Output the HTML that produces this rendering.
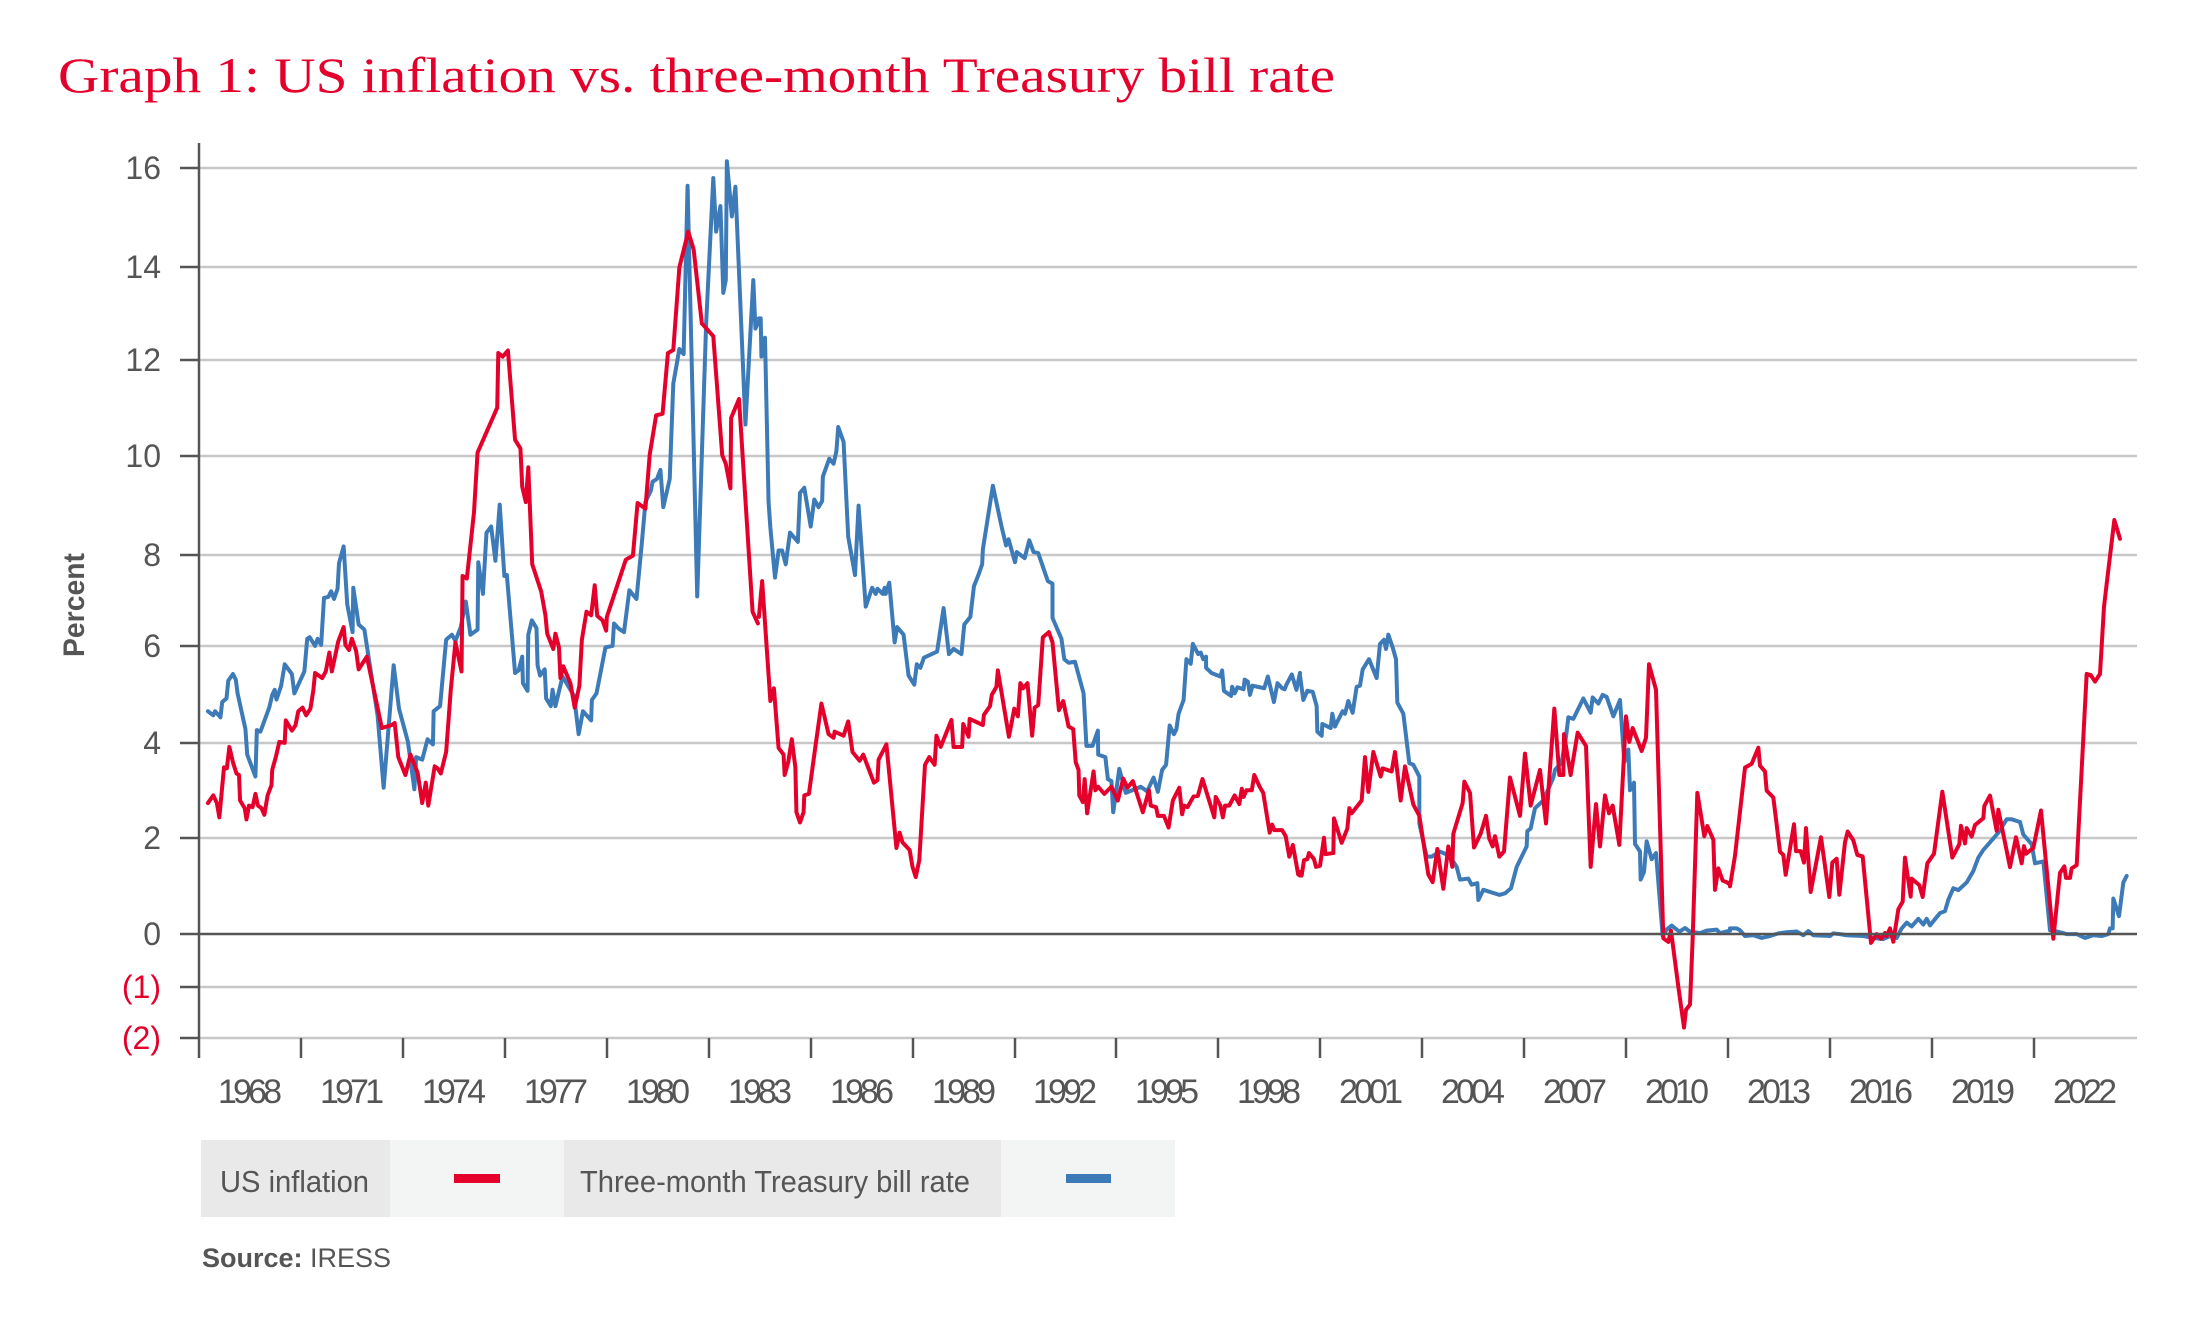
<!DOCTYPE html>
<html><head><meta charset="utf-8"><style>
html,body{margin:0;padding:0;background:#fff;}
svg{display:block;}
</style></head><body>
<svg width="2206" height="1320" viewBox="0 0 2206 1320" xmlns="http://www.w3.org/2000/svg">
<rect width="2206" height="1320" fill="#fff"/>
<text x="58" y="92" font-family="Liberation Serif, serif" font-size="50" fill="#e4002b" textLength="1277" lengthAdjust="spacingAndGlyphs">Graph 1: US inflation vs. three-month Treasury bill rate</text>

<g stroke="#c8c8c8" stroke-width="2.5">
<line x1="199" y1="168" x2="2137" y2="168"/>
<line x1="199" y1="267" x2="2137" y2="267"/>
<line x1="199" y1="360" x2="2137" y2="360"/>
<line x1="199" y1="456" x2="2137" y2="456"/>
<line x1="199" y1="555" x2="2137" y2="555"/>
<line x1="199" y1="646" x2="2137" y2="646"/>
<line x1="199" y1="743" x2="2137" y2="743"/>
<line x1="199" y1="838" x2="2137" y2="838"/>
<line x1="199" y1="987" x2="2137" y2="987"/>
<line x1="199" y1="1038" x2="2137" y2="1038"/>
</g>
<g stroke="#555" stroke-width="2.5">
<line x1="180" y1="168" x2="199" y2="168"/>
<line x1="180" y1="267" x2="199" y2="267"/>
<line x1="180" y1="360" x2="199" y2="360"/>
<line x1="180" y1="456" x2="199" y2="456"/>
<line x1="180" y1="555" x2="199" y2="555"/>
<line x1="180" y1="646" x2="199" y2="646"/>
<line x1="180" y1="743" x2="199" y2="743"/>
<line x1="180" y1="838" x2="199" y2="838"/>
<line x1="180" y1="934" x2="199" y2="934"/>
<line x1="180" y1="987" x2="199" y2="987"/>
<line x1="180" y1="1038" x2="199" y2="1038"/>
<line x1="199" y1="143" x2="199" y2="1058"/>
<line x1="301" y1="1038" x2="301" y2="1058"/><line x1="403" y1="1038" x2="403" y2="1058"/><line x1="505" y1="1038" x2="505" y2="1058"/><line x1="607" y1="1038" x2="607" y2="1058"/><line x1="709" y1="1038" x2="709" y2="1058"/><line x1="811" y1="1038" x2="811" y2="1058"/><line x1="913" y1="1038" x2="913" y2="1058"/><line x1="1015" y1="1038" x2="1015" y2="1058"/><line x1="1116" y1="1038" x2="1116" y2="1058"/><line x1="1218" y1="1038" x2="1218" y2="1058"/><line x1="1320" y1="1038" x2="1320" y2="1058"/><line x1="1422" y1="1038" x2="1422" y2="1058"/><line x1="1524" y1="1038" x2="1524" y2="1058"/><line x1="1626" y1="1038" x2="1626" y2="1058"/><line x1="1728" y1="1038" x2="1728" y2="1058"/><line x1="1830" y1="1038" x2="1830" y2="1058"/><line x1="1932" y1="1038" x2="1932" y2="1058"/><line x1="2034" y1="1038" x2="2034" y2="1058"/>
</g>

<g font-family="Liberation Sans, sans-serif" font-size="32" fill="#555" text-anchor="end">
<text x="161" y="179">16</text><text x="161" y="278">14</text><text x="161" y="371">12</text><text x="161" y="467">10</text><text x="161" y="566">8</text><text x="161" y="657">6</text><text x="161" y="754">4</text><text x="161" y="849">2</text><text x="161" y="945">0</text>
<text x="161" y="998" fill="#e4002b">(1)</text><text x="161" y="1049" fill="#e4002b">(2)</text>
</g>
<text transform="translate(84,605) rotate(-90)" font-family="Liberation Sans, sans-serif" font-weight="bold" font-size="30" fill="#555" text-anchor="middle" textLength="104" lengthAdjust="spacingAndGlyphs">Percent</text>

<g font-family="Liberation Sans, sans-serif" font-size="34" fill="#555" text-anchor="middle" lengthAdjust="spacingAndGlyphs">
<text x="250" y="1103" textLength="64">1968</text><text x="352" y="1103" textLength="64">1971</text><text x="454" y="1103" textLength="64">1974</text><text x="556" y="1103" textLength="64">1977</text><text x="658" y="1103" textLength="64">1980</text><text x="760" y="1103" textLength="64">1983</text><text x="862" y="1103" textLength="64">1986</text><text x="964" y="1103" textLength="64">1989</text><text x="1065" y="1103" textLength="64">1992</text><text x="1167" y="1103" textLength="64">1995</text><text x="1269" y="1103" textLength="64">1998</text><text x="1371" y="1103" textLength="64">2001</text><text x="1473" y="1103" textLength="64">2004</text><text x="1575" y="1103" textLength="64">2007</text><text x="1677" y="1103" textLength="64">2010</text><text x="1779" y="1103" textLength="64">2013</text><text x="1881" y="1103" textLength="64">2016</text><text x="1983" y="1103" textLength="64">2019</text><text x="2085" y="1103" textLength="64">2022</text>
</g>

<g fill="none" stroke-width="4" stroke-linejoin="round" stroke-linecap="round">
<g stroke="#3d7ab8">
<g transform="translate(199,150) scale(0.357143,0.510204)"><polyline vector-effect="non-scaling-stroke" points="25,1100 40,1108 45,1100 60,1112 65,1082 77,1075 82,1040 95,1027 103,1038 108,1065 130,1135 135,1185 158,1228 162,1137 172,1140 197,1092 205,1068 212,1058 217,1077 230,1050 240,1008 260,1027 267,1065 295,1022 303,958 310,955 325,972 332,958 342,970 350,878 362,876 370,865 378,880 388,860 392,810 405,777 415,890 430,945 432,858 447,930 463,940 500,1108 517,1250 545,1010 560,1095 585,1160 603,1253 608,1190 625,1195 640,1155 655,1165 657,1100 675,1090 692,960 708,950 718,962 733,935 747,885 760,950 780,940 782,808 795,870 805,750 818,738 830,805 842,695 855,835 862,833 885,1025 895,1020 905,993 907,1045 920,1060 922,950 932,922 945,937 948,1010 955,1030 968,1018 972,1075 985,1090 990,1058 998,1090 1018,1032 1050,1070 1063,1145 1075,1100 1098,1118 1100,1078 1113,1065 1138,975 1158,972 1162,928 1175,938 1190,945 1205,863 1225,880 1240,770 1250,690 1265,668 1270,650 1282,645 1292,627 1300,700 1318,645 1328,458 1345,390 1357,400 1368,70 1395,875 1420,340 1440,55 1448,160 1460,110 1468,280 1475,255 1478,22 1492,130 1502,72 1530,538 1552,255 1558,350 1568,335"/></g>
<g transform="translate(740,150) scale(0.357143,0.510204)"><polyline vector-effect="non-scaling-stroke" points="53,330 58,330 60,405 70,368 80,690 85,740 98,838 108,785 118,785 128,812 140,750 162,768 168,672 180,662 198,738 208,685 220,700 230,688 232,640 250,605 262,615 270,590 275,543 290,572 303,758 322,833 332,697 352,895 370,858 380,870 385,860 400,870 405,858 408,870 418,848 433,965 440,935 458,950 472,1030 488,1048 495,1008 505,1015 515,995 552,983 570,898 585,988 598,978 620,988 628,930 645,915 655,855 668,832 678,812 680,783 708,658 733,740 745,775 752,763 770,808 775,788 797,800 810,765 822,788 835,790 862,845 875,850 875,917 900,958 908,998 920,1005 938,1003 962,1065 970,1168 987,1168 1002,1138 1003,1185 1023,1190 1030,1233 1040,1237 1045,1298 1062,1213 1080,1260 1122,1248 1140,1257 1158,1230 1170,1258 1182,1215 1193,1205 1203,1128 1215,1145 1222,1135 1228,1105 1242,1078 1250,998 1262,1007 1268,968 1283,988 1290,985 1297,998 1305,993 1305,1015 1320,1025 1345,1032 1350,1020 1355,1060 1375,1070 1378,1052 1385,1065 1393,1053 1410,1057 1413,1038 1422,1042 1428,1068 1435,1050 1468,1055 1478,1032 1495,1082 1505,1045 1518,1055 1525,1057 1530,1048 1545,1028 1558,1058 1568,1025"/></g>
<g transform="translate(1290,150) scale(0.333333,0.510204)"><polyline vector-effect="non-scaling-stroke" points="30,1030 40,1078 52,1060 68,1062 80,1090 82,1140 95,1148 97,1125 122,1133 127,1105 135,1130 150,1110 158,1100 165,1105 175,1080 188,1103 200,1052 210,1050 218,1018 237,998 260,1035 270,968 282,960 288,978 295,950 308,975 318,998 322,1083 340,1105 358,1202 370,1205 388,1228 388,1320 410,1385 425,1385 450,1375 478,1383 500,1405 510,1430 535,1428 545,1440 562,1437 565,1470 580,1450 628,1460 645,1457 663,1447 680,1405 710,1365 712,1335 722,1330 735,1290 760,1275 790,1230 795,1215 815,1200 828,1150 835,1112 850,1115 880,1075 902,1103 908,1073 925,1085 938,1068 950,1072 970,1110 990,1078 1003,1200 1015,1175 1020,1255 1032,1240 1035,1360 1050,1375 1052,1430 1062,1415 1070,1355 1085,1390 1098,1378 1118,1540 1130,1528 1145,1520 1168,1532 1185,1525 1200,1532 1230,1535 1250,1530 1280,1528 1290,1535 1320,1530"/></g>
<g transform="translate(1720,450) scale(0.333333,0.382702)"><polyline vector-effect="non-scaling-stroke" points="30,1250 35,1250 50,1250 60,1255 75,1270 100,1268 125,1275 150,1270 175,1263 200,1260 230,1258 250,1268 265,1257 280,1268 330,1270 340,1263 360,1265 380,1268 430,1270 460,1275 490,1278 510,1270 530,1275 545,1250 560,1235 575,1245 595,1225 610,1240 620,1225 630,1242 660,1210 675,1205 685,1175 700,1145 715,1150 740,1130 760,1100 775,1065 790,1045 810,1025 835,1000 860,965 875,965 900,972 910,1005 935,1030 945,1080 970,1075 990,1255 1010,1258 1040,1265 1070,1265 1095,1275 1120,1268 1145,1270 1165,1265 1170,1250 1178,1250 1180,1172 1197,1218 1210,1130 1220,1113"/></g>
</g>
<g stroke="#e4002b">
<g transform="translate(199,150) scale(0.357143,0.510204)"><polyline vector-effect="non-scaling-stroke" points="25,1280 40,1265 50,1280 57,1308 70,1210 78,1212 85,1170 95,1200 105,1222 112,1225 115,1275 128,1290 133,1312 140,1285 150,1288 158,1262 165,1285 175,1290 183,1303 192,1265 203,1245 205,1215 215,1190 225,1160 240,1162 243,1118 260,1138 270,1128 278,1100 290,1093 300,1108 312,1095 320,1060 325,1025 345,1035 355,1022 365,985 372,1022 390,963 405,935 410,970 420,980 428,958 440,982 447,1018 470,993 512,1133 540,1127 548,1123 558,1190 578,1225 592,1185 612,1220 625,1280 635,1240 642,1285 660,1208 668,1212 677,1222 692,1180 705,1058 718,965 735,1022 738,835 750,840 770,710 780,593 835,505 838,398 850,405 865,393 885,568 900,585 905,660 915,690 922,622 933,812 958,865 970,912 975,948 992,978 998,948 1008,975 1012,1035 1020,1012 1040,1045 1052,1093 1065,1050 1072,960 1085,905 1098,912 1108,853 1115,913 1130,922 1140,942 1142,915 1195,803 1215,795 1228,692 1250,703 1262,597 1280,520 1298,517 1313,398 1328,392 1345,230 1370,160 1385,195 1408,340 1440,365 1465,598 1475,615 1488,663 1490,525 1512,488 1550,905 1565,928"/></g>
<g transform="translate(740,150) scale(0.357143,0.510204)"><polyline vector-effect="non-scaling-stroke" points="53,915 62,845 85,1080 95,1055 108,1172 122,1185 125,1225 135,1200 145,1155 155,1210 158,1298 168,1318 178,1298 180,1265 193,1262 212,1165 228,1085 248,1145 262,1152 265,1140 290,1148 303,1120 315,1180 335,1197 345,1185 375,1240 385,1235 388,1195 410,1165 438,1368 447,1338 455,1357 475,1372 483,1405 492,1425 502,1392 518,1205 530,1190 545,1205 550,1148 562,1170 592,1117 598,1170 622,1170 625,1125 640,1150 643,1115 680,1127 683,1107 700,1090 705,1068 718,1052 722,1020 753,1150 768,1095 778,1110 785,1045 793,1055 805,1045 818,1148 825,1093 835,1088 848,955 865,945 875,965 893,1098 905,1080 920,1130 933,1135 940,1200 948,1215 950,1265 960,1278 965,1233 972,1300 990,1218 995,1255 1003,1248 1020,1262 1040,1248 1058,1275 1073,1232 1085,1250 1100,1237 1128,1298 1145,1255 1150,1285 1165,1288 1170,1305 1187,1305 1200,1328 1212,1275 1230,1250 1238,1302 1243,1285 1253,1288 1270,1267 1282,1266 1295,1233 1328,1308 1332,1268 1345,1285 1352,1308 1358,1285 1370,1285 1385,1265 1398,1282 1405,1252 1410,1268 1418,1255 1433,1255 1440,1225 1455,1248 1465,1260 1483,1338 1490,1322 1496,1333 1518,1333 1528,1345 1538,1385 1548,1362 1563,1420 1568,1422"/></g>
<g transform="translate(1290,150) scale(0.333333,0.510204)"><polyline vector-effect="non-scaling-stroke" points="30,1415 35,1422 42,1392 52,1390 57,1378 72,1390 78,1405 90,1403 102,1348 106,1380 130,1378 132,1310 155,1358 172,1330 178,1290 185,1300 215,1275 225,1190 235,1258 250,1180 272,1228 278,1212 305,1218 315,1180 332,1275 345,1208 370,1283 388,1305 415,1420 428,1435 442,1370 460,1448 475,1365 487,1405 490,1340 518,1280 523,1238 540,1260 552,1367 572,1340 588,1305 598,1350 608,1365 615,1345 628,1385 642,1375 660,1230 690,1305 705,1183 722,1285 750,1215 768,1320 793,1095 808,1225 820,1225 822,1145 842,1225 863,1142 888,1168 902,1405 918,1282 930,1365 945,1265 957,1300 968,1285 988,1362 1008,1110 1018,1160 1028,1133 1055,1178 1068,1152 1077,1008 1098,1058 1120,1545 1135,1552 1143,1530 1149,1560 1165,1640 1182,1720 1188,1685 1200,1675 1208,1545 1222,1260 1243,1345 1252,1325 1270,1352 1275,1450 1285,1408 1298,1432 1310,1435 1320,1440"/></g>
<g transform="translate(1720,450) scale(0.333333,0.382702)"><polyline vector-effect="non-scaling-stroke" points="30,1140 45,1060 75,830 95,820 115,778 120,825 135,840 140,890 160,908 180,1050 190,1058 197,1110 222,978 228,1048 242,1048 252,1078 258,988 272,1155 303,1012 328,1168 337,1078 350,1068 358,1162 375,1025 383,997 400,1020 412,1058 428,1062 453,1288 470,1265 483,1277 495,1262 500,1270 510,1250 520,1285 535,1200 548,1180 555,1065 572,1167 575,1120 598,1137 608,1168 622,1080 642,1055 667,893 697,1065 718,1030 723,982 735,1028 740,988 755,1010 765,980 790,962 793,930 810,903 830,995 835,940 870,1090 888,1012 905,1080 912,1035 918,1055 940,1040 963,942 1000,1277 1020,1105 1033,1088 1038,1118 1050,1118 1055,1093 1070,1085 1100,585 1112,588 1125,605 1140,585 1152,410 1160,350 1183,183 1200,232"/></g>
</g>
</g>
<line x1="199" y1="934" x2="2137" y2="934" stroke="#555" stroke-width="2.5"/>

<rect x="201" y="1140" width="189" height="77" fill="#e9e9e9"/>
<rect x="390" y="1140" width="174" height="77" fill="#f3f4f4"/>
<rect x="564" y="1140" width="437" height="77" fill="#e9e9e9"/>
<rect x="1001" y="1140" width="174" height="77" fill="#f3f4f4"/>
<rect x="454" y="1174" width="46" height="9" fill="#e4002b"/>
<rect x="1066" y="1174" width="45" height="9" fill="#3d7ab8"/>
<g font-family="Liberation Sans, sans-serif" font-size="31" fill="#555">
<text x="220" y="1192" textLength="149" lengthAdjust="spacingAndGlyphs">US inflation</text>
<text x="580" y="1192" textLength="390" lengthAdjust="spacingAndGlyphs">Three-month Treasury bill rate</text>
</g>
<text x="202" y="1267" font-family="Liberation Sans, sans-serif" font-size="27" fill="#555"><tspan font-weight="bold">Source:</tspan> IRESS</text>
</svg>
</body></html>
